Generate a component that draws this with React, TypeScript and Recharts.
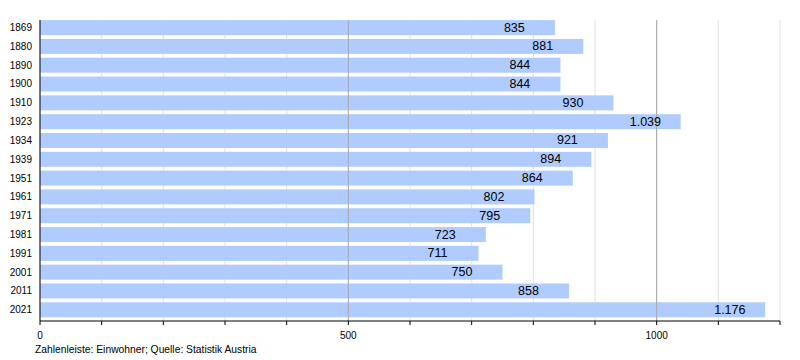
import React from 'react';
import { BarChart, Bar, XAxis, YAxis, CartesianGrid, ReferenceLine, LabelList } from 'recharts';

const years = ['1869', '1880', '1890', '1900', '1910', '1923', '1934', '1939', '1951', '1961', '1971', '1981', '1991', '2001', '2011', '2021'];
const population = [835, 881, 844, 844, 930, 1039, 921, 894, 864, 802, 795, 723, 711, 750, 858, 1176];
const xTicks = [0, 100, 200, 300, 400, 500, 600, 700, 800, 900, 1000, 1100, 1200];
const labeledTicks = [0, 500, 1000];

const data = years.map((year, i) => ({ year, value: population[i] }));

const font = '"Liberation Sans", Arial, Helvetica, sans-serif';

// 1176 -> "1.176"
const formatDe = (v: number) => String(v).replace(/\B(?=(\d{3})+(?!\d))/g, '.');

const BarShape = (props: any) => {
  const { x, y, width, height } = props;
  // bars sit at the top of their band, not centred
  return <rect x={x} y={y - 1.9} width={width} height={height} fill="#b0ccff" />;
};

const ValueLabel = (props: any) => {
  const { x, y, width, height, value } = props;
  return (
    <text
      x={x + width - 51}
      y={y - 1.9 + height / 2}
      dominantBaseline="central"
      textAnchor="start"
      fontSize={12.5}
      fontFamily={font}
      fill="#000"
    >
      {formatDe(value)}
    </text>
  );
};

const YearTick = (props: any) => {
  const { x, y, payload } = props;
  return (
    <text
      x={x}
      y={y - 1.9}
      dominantBaseline="central"
      textAnchor="end"
      fontSize={10}
      fontFamily={font}
      fill="#000"
    >
      {payload.value}
    </text>
  );
};

const App: React.FC = () => {
  return (
    <div style={{ position: 'absolute', left: 0, top: 0, width: 800, height: 360 }}>
      <BarChart
        width={800}
        height={360}
        data={data}
        layout="vertical"
        margin={{ top: 20, right: 20, bottom: 19, left: 0 }}
        barSize={15}
      >
        <CartesianGrid horizontal={false} stroke="#e0e0e0" verticalValues={xTicks} />
        <ReferenceLine x={500} stroke="#a8a8a8" />
        <ReferenceLine x={1000} stroke="#a8a8a8" />
        <XAxis
          type="number"
          domain={[0, 1200]}
          ticks={xTicks}
          interval={0}
          height={20}
          axisLine={{ stroke: '#000' }}
          tickLine={{ stroke: '#000' }}
          tickSize={4}
          tickMargin={7}
          tick={{ fontSize: 10, fontFamily: font, fill: '#000' }}
          tickFormatter={(v: number) => (labeledTicks.includes(v) ? String(v) : '')}
        />
        <YAxis
          type="category"
          dataKey="year"
          width={40}
          interval={0}
          axisLine={{ stroke: '#000' }}
          tickLine={false}
          tickSize={0}
          tickMargin={8}
          tick={YearTick}
        />
        <Bar dataKey="value" shape={BarShape} isAnimationActive={false}>
          <LabelList dataKey="value" content={ValueLabel} />
        </Bar>
      </BarChart>
      <div
        style={{
          position: 'absolute',
          left: 35,
          top: 344,
          fontSize: 10.3,
          fontFamily: font,
          color: '#000',
          whiteSpace: 'nowrap',
        }}
      >
        Zahlenleiste: Einwohner; Quelle: Statistik Austria
      </div>
    </div>
  );
};

export default App;
